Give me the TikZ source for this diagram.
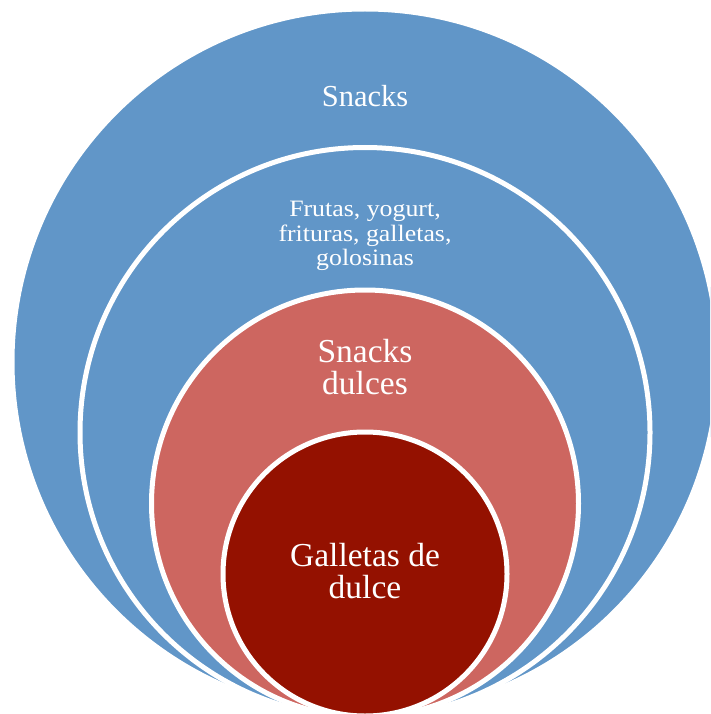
\documentclass[tikz,border=0pt]{standalone}
\usepackage{fontspec}
\setmainfont{Liberation Serif}
\newfontfamily\widefont{Liberation Serif}[FakeStretch=1.1]
\definecolor{cblue}{RGB}{97,150,200}
\definecolor{cred}{RGB}{205,102,96}
\definecolor{cdark}{RGB}{148,17,0}
\tikzset{
  ring/.style={circle, inner sep=0pt, draw=white, line width=5pt},
  lbl/.style={text=white, align=center, inner sep=0pt, anchor=base}
}
\begin{document}
\begin{tikzpicture}[x=1pt,y=-1pt]
\useasboundingbox (0,0) rectangle (710,714);
\clip (0,0) rectangle (710,714);
\node[ring, fill=cblue, minimum size=706pt] (outer) at (365,362) {};
\node[ring, fill=cblue, minimum size=570pt] (second) at (365,432.5) {};
\node[ring, fill=cred, minimum size=427pt] (third) at (365,503.5) {};
\node[ring, fill=cdark, minimum size=284pt] (inner) at (365,574) {};
\node[lbl, font=\fontsize{30.5}{33}\selectfont] (t1) at (365,106.4) {Snacks};
\node[lbl, font=\widefont\fontsize{23.5}{24.5}\selectfont] (t2) at (365,265.7) {Frutas, yogurt,\\frituras, galletas,\\golosinas};
\node[lbl, font=\fontsize{33.5}{32.5}\selectfont] (t3) at (365,394.5) {Snacks\\dulces};
\node[lbl, font=\fontsize{33.5}{32}\selectfont] (t4) at (365,598) {Galletas de\\dulce};
\end{tikzpicture}
\end{document}
